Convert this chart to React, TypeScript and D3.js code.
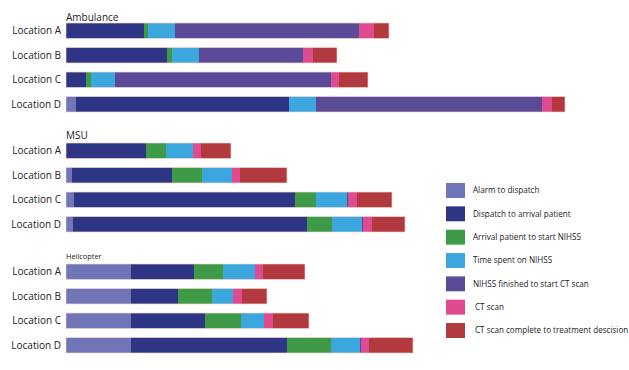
import React from 'react';
import * as d3 from 'd3';

// stage names (legend order = stack order)
const stages = [
  'Alarm to dispatch',
  'Dispatch to arrival patient',
  'Arrival patient to start NIHSS',
  'Time spent on NIHSS',
  'NIHSS finished to start CT scan',
  'CT scan',
  'CT scan complete to treatment descision',
];
const colors = ['#6f75b6', '#2e3585', '#3f9a47', '#3ca7df', '#5a4a98', '#e04a90', '#b23a3e'];

const locations = ['Location A', 'Location B', 'Location C', 'Location D'];

// durations per location, one value per stage
const ambulance = [
  [0, 78, 4, 27, 184, 15, 15],
  [0, 101, 5, 27, 104, 10, 24],
  [0, 20, 5, 24, 216, 8, 29],
  [10, 213, 0, 27, 226, 10, 13],
];
const msu = [
  [0, 80, 20, 27, 0, 8, 30],
  [6, 100, 30, 30, 0, 8, 47],
  [8, 221, 21, 31, 1, 9, 35],
  [7, 234, 25, 30, 1, 9, 33],
];
const helicopter = [
  [65, 63, 29, 32, 0, 8, 42],
  [65, 47, 34, 21, 0, 9, 25],
  [65, 74, 36, 23, 0, 9, 36],
  [65, 156, 44, 29, 1, 8, 44],
];

const groups = [
  { title: 'Ambulance', data: ambulance, top: 23, titleSize: 10, titleDy: -2.5 },
  { title: 'MSU', data: msu, top: 143, titleSize: 10, titleDy: -4 },
  { title: 'Helicopter', data: helicopter, top: 264, titleSize: 7.4, titleDy: -5 },
];

const W = 629;
const H = 370;
const font = 'Open Sans, Lato, sans-serif';

export default function App() {
  const x = d3.scaleLinear().domain([0, 500]).range([66, 566]);
  const y = d3.scaleBand().domain(locations).range([0, 89]).paddingInner(0.37).paddingOuter(0);
  const legendY = d3.scaleBand().domain(stages).range([183, 338]).paddingInner(0.36);

  return (
    <svg width={W} height={H} style={{ position: 'absolute', left: 0, top: 0, background: '#fff' }}>
      {groups.map(g => {
        const rows = g.data.map((vals, i) => {
          const obj: any = { loc: locations[i] };
          stages.forEach((s, j) => (obj[s] = vals[j]));
          return obj;
        });
        const layers = d3.stack().keys(stages)(rows);
        return (
          <g key={g.title} transform={`translate(0,${g.top})`}>
            <text x={66} y={g.titleDy} fontSize={g.titleSize} fontFamily={font} fill="#222">
              {g.title}
            </text>
            {locations.map(loc => (
              <text
                key={loc}
                x={61}
                y={(y(loc) ?? 0) + y.bandwidth() / 2}
                dy="0.35em"
                textAnchor="end"
                fontSize={10}
                fontFamily={font}
                fill="#222"
              >
                {loc}
              </text>
            ))}
            {layers.map((layer, li) => (
              <g key={layer.key} fill={colors[li]}>
                {layer.map((seq, k) =>
                  seq[1] - seq[0] > 0 ? (
                    <rect
                      key={k}
                      x={x(seq[0])}
                      width={x(seq[1]) - x(seq[0])}
                      y={y(seq.data.loc as string)}
                      height={y.bandwidth()}
                    />
                  ) : null
                )}
              </g>
            ))}
            {locations.map((loc, i) => {
              const total = d3.sum(g.data[i]);
              return (
                <rect
                  key={loc}
                  x={x(0)}
                  y={y(loc)}
                  width={x(total) - x(0)}
                  height={y.bandwidth()}
                  fill="none"
                  stroke="#f3d6d0"
                  strokeWidth={0.8}
                  opacity={0.8}
                />
              );
            })}
          </g>
        );
      })}
      <g>
        {stages.map((s, i) => (
          <g key={s}>
            <rect x={446} y={legendY(s)} width={19} height={legendY.bandwidth()} fill={colors[i]} />
            <text
              x={i >= 5 ? 475 : 473}
              y={(legendY(s) ?? 0) + legendY.bandwidth() / 2}
              dy="0.35em"
              fontSize={8.1}
              fontFamily={font}
              fill="#222"
            >
              {s}
            </text>
          </g>
        ))}
      </g>
    </svg>
  );
}
